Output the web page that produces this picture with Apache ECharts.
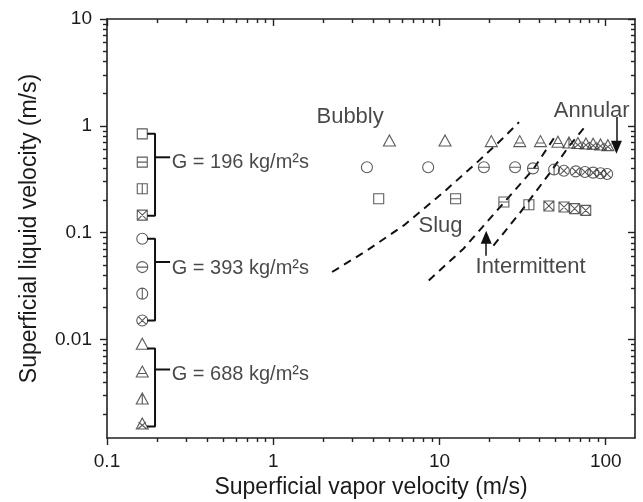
<!DOCTYPE html>
<html><head><meta charset="utf-8">
<script src="https://cdn.jsdelivr.net/npm/echarts@6/dist/echarts.min.js"></script>
<style>html,body{margin:0;padding:0;background:#fff}#c{width:643px;height:502px;background:#fff}</style>
</head><body><div id="c"></div>
<script>
// ---------------- data ----------------
const xTickValues = [0.1, 1, 10, 100];
const xTickLabels = ['0.1', '1', '10', '100'];
const yTickValues = [0.01, 0.1, 1, 10];
const yTickLabels = ['0.01', '0.1', '1', '10'];
const xTitle = 'Superficial vapor velocity (m/s)';
const yTitle = 'Superficial liquid velocity (m/s)';

// regime codes: B = bubbly, S = slug, I = intermittent, A = annular
// G = 196 kg/m2s (squares)
const vg196 = [4.31, 12.5, 24.4, 34.5, 45.5, 56.1, 65.0, 75.8];
const vl196 = [0.208, 0.208, 0.194, 0.183, 0.178, 0.174, 0.168, 0.162];
const rg196 = ['B', 'S', 'S', 'I', 'A', 'A', 'A', 'A'];
// G = 393 kg/m2s (circles)
const vg393 = [3.66, 8.55, 18.5, 28.5, 36.5, 48.9, 56, 66, 75, 84, 93, 102];
const vl393 = [0.41, 0.41, 0.41, 0.41, 0.40, 0.39, 0.38, 0.375, 0.37, 0.365, 0.36, 0.355];
const rg393 = ['B', 'B', 'S', 'S', 'S', 'I', 'A', 'A', 'A', 'A', 'A', 'A'];
// G = 688 kg/m2s (triangles)
const vg688 = [5.0, 10.8, 20.5, 30.4, 40.5, 51.6, 60.1, 68, 76, 84, 93, 103];
const vl688 = [0.73, 0.73, 0.72, 0.72, 0.72, 0.71, 0.70, 0.69, 0.685, 0.68, 0.67, 0.66];
const rg688 = ['B', 'B', 'B', 'S', 'S', 'S', 'I', 'A', 'A', 'A', 'A', 'A'];

// key column (symbol legend at the left)
const keyRegimes = ['B', 'S', 'I', 'A'];
const keyX = 0.163;
const keyY196 = [0.842, 0.458, 0.258, 0.146];
const keyY393 = [0.0879, 0.0477, 0.0269, 0.0151];
const keyY688 = [0.00916, 0.00502, 0.00281, 0.00164];

// flow-pattern transition boundaries
const bubblySlugX = [2.26, 3.67, 6.10, 10.6, 16.9, 23.3, 30.1];
const bubblySlugY = [0.0429, 0.0684, 0.117, 0.240, 0.458, 0.729, 1.083];
const slugIntX = [8.62, 13.95, 36.8, 50.7];
const slugIntY = [0.0358, 0.0709, 0.396, 0.84];
const intAnnX = [21.1, 30.8, 46.7, 59.8, 75];
const intAnnY = [0.0756, 0.157, 0.372, 0.637, 0.98];

// annotations
const annText = ['Bubbly', 'Slug', 'Intermittent', 'Annular'];
const annX = [2.90, 10.15, 35.3, 82.4];
const annY = [1.21, 0.116, 0.048, 1.38];
const gText = ['G = 196 kg/m\u00b2s', 'G = 393 kg/m\u00b2s', 'G = 688 kg/m\u00b2s'];
const gTextX = 0.245;
const gTextY = [0.451, 0.0461, 0.00471];
const bracketTop = [0.842, 0.0879, 0.00824];
const bracketBot = [0.144, 0.01506, 0.00154];
const bracketMid = [0.508, 0.0532, 0.00525];
const bracketX = [0.174, 0.1945, 0.2396];
const arrowAnnular = [[116, 1.21], [116, 0.63]];
const arrowInterm = [[19.1, 0.061], [19.1, 0.0908]];

// ---------------- chart ----------------
const INK = '#1a1a1a';
const FONT = "'Liberation Sans', Arial, sans-serif";
const SHAPES = {
  square: 'M2,2L18,2L18,18L2,18Z',
  circle: 'M2,10A8,8,0,1,1,18,10A8,8,0,1,1,2,10Z',
  triangle: 'M10,2L18,17L2,17Z'
};
const INNER = {
  square: { B: '', S: 'M2,10L18,10', I: 'M10,2L10,18', A: 'M2,2L18,18M18,2L2,18' },
  circle: { B: '', S: 'M2,10L18,10', I: 'M10,2L10,18', A: 'M4.34,4.34L15.66,15.66M15.66,4.34L4.34,15.66' },
  triangle: { B: '', S: 'M4.7,12L15.3,12', I: 'M10,2L10,17', A: 'M5,7.5L16,17M15,7.5L4,17' }
};
const SIZES = { square: [10, 10], circle: [11, 11], triangle: [12, 11] };
const sym = (shape, r) => 'path://' + SHAPES[shape] + INNER[shape][r];

function markerSeries(xs, ys, regs, shape) {
  return {
    type: 'scatter', xAxisIndex: 0, yAxisIndex: 0, silent: true, z: 3,
    symbolSize: SIZES[shape],
    itemStyle: { color: 'rgba(0,0,0,0)', borderColor: '#333', borderWidth: 1.1 },
    data: xs.map((x, i) => ({ value: [x, ys[i]], symbol: sym(shape, regs[i]) }))
  };
}
function keySeries(ys, shape) {
  return markerSeries(ys.map(() => keyX), ys, keyRegimes, shape);
}
function dashed(xs, ys) {
  return {
    type: 'line', xAxisIndex: 0, yAxisIndex: 0, silent: true, showSymbol: false, symbol: 'none',
    lineStyle: { color: '#111', width: 2, type: [8, 6] },
    data: xs.map((x, i) => [x, ys[i]])
  };
}
function bracket(i) {
  const [xa, xb, xc] = bracketX;
  return [
    { type: 'line', xAxisIndex: 0, yAxisIndex: 0, silent: true, showSymbol: false, symbol: 'none',
      lineStyle: { color: '#111', width: 2 },
      data: [[xa, bracketTop[i]], [xb, bracketTop[i]], [xb, bracketBot[i]], [xa, bracketBot[i]]] },
    { type: 'line', xAxisIndex: 0, yAxisIndex: 0, silent: true, showSymbol: false, symbol: 'none',
      lineStyle: { color: '#111', width: 2 },
      data: [[xb, bracketMid[i]], [xc, bracketMid[i]]] }
  ];
}

function minorOf(majors, max) {
  const out = [];
  majors.forEach(d => { for (let k = 2; k <= 9; k++) { const v = +(d * k).toPrecision(3); if (v <= max) out.push(v); } });
  return out;
}
const X_MIN = 0.1, X_MAX = 150, Y_MIN = 0.0012, Y_MAX = 10;
const L = Math.log10;
const xMinor = minorOf([0.1, 1, 10, 100], X_MAX);
const yMinor = minorOf([0.001, 0.01, 0.1, 1], Y_MAX).filter(v => v >= Y_MIN);
const lineSt = { color: '#222', width: 1.6 };

// main (log) axes carry the data, the labels and the axis line
const mainX = {
  type: 'log', min: X_MIN, max: X_MAX,
  axisLine: { show: true, onZero: false, lineStyle: lineSt }, axisTick: { show: false },
  splitLine: { show: false },
  axisLabel: { customValues: xTickValues, fontSize: 19, margin: 14, color: INK, fontFamily: FONT }
};
const mainY = {
  type: 'log', min: Y_MIN, max: Y_MAX,
  axisLine: { show: true, onZero: false, lineStyle: lineSt }, axisTick: { show: false },
  splitLine: { show: false },
  axisLabel: { customValues: yTickValues, fontSize: 19, margin: 15, color: INK, fontFamily: FONT }
};
// tick-only companion axes, expressed in decades (log10 of the same range)
function tickAxis(lo, hi, pos, vals, len, inside, showLine) {
  return {
    type: 'value', min: L(lo), max: L(hi), position: pos,
    axisLine: { show: !!showLine, onZero: false, lineStyle: lineSt },
    axisTick: { show: true, customValues: vals.map(L), length: len, inside: inside,
                lineStyle: { color: '#222', width: 1.4 } },
    axisLabel: { show: false }, splitLine: { show: false }, minorTick: { show: false }
  };
}
const xAxes = [
  mainX,
  tickAxis(X_MIN, X_MAX, 'bottom', xTickValues, 7, false),
  tickAxis(X_MIN, X_MAX, 'bottom', xMinor, 4, false),
  tickAxis(X_MIN, X_MAX, 'top', xTickValues, 7, true, true),
  tickAxis(X_MIN, X_MAX, 'top', xMinor, 4, true)
];
const yAxes = [
  mainY,
  tickAxis(Y_MIN, Y_MAX, 'left', yTickValues, 7, false),
  tickAxis(Y_MIN, Y_MAX, 'left', yMinor, 4, false),
  tickAxis(Y_MIN, Y_MAX, 'right', yTickValues, 7, true, true),
  tickAxis(Y_MIN, Y_MAX, 'right', yMinor, 4, true)
];

const series = [
  dashed(bubblySlugX, bubblySlugY),
  dashed(slugIntX, slugIntY),
  dashed(intAnnX, intAnnY),
  ...bracket(0), ...bracket(1), ...bracket(2),
  markerSeries(vg196, vl196, rg196, 'square'),
  markerSeries(vg393, vl393, rg393, 'circle'),
  markerSeries(vg688, vl688, rg688, 'triangle'),
  keySeries(keyY196, 'square'),
  keySeries(keyY393, 'circle'),
  keySeries(keyY688, 'triangle'),
  {
    type: 'scatter', xAxisIndex: 0, yAxisIndex: 0, silent: true, symbolSize: 0, z: 5,
    label: { show: true, position: 'inside', formatter: '{b}', fontSize: 22, color: INK, fontFamily: FONT },
    data: annText.map((t, i) => ({ name: t, value: [annX[i], annY[i]] })),
    markLine: {
      silent: true, animation: false, symbol: ['none', 'triangle'], symbolSize: [11, 13],
      lineStyle: { color: '#111', width: 1.5, type: 'solid' },
      itemStyle: { color: '#111' },
      label: { show: false }, emphasis: { disabled: true },
      data: [
        [{ coord: arrowAnnular[0] }, { coord: arrowAnnular[1] }],
        [{ coord: arrowInterm[0] }, { coord: arrowInterm[1] }]
      ]
    }
  },
  {
    type: 'scatter', xAxisIndex: 0, yAxisIndex: 0, silent: true, symbolSize: 0, z: 5,
    label: { show: true, position: 'right', distance: 0, formatter: '{b}', fontSize: 20, color: INK, fontFamily: FONT },
    data: gText.map((t, i) => ({ name: t, value: [gTextX, gTextY[i]] }))
  }
];

const GRID = { left: 107, right: 8, top: 19, bottom: 64 };
const W = 643, H = 502;
const chart = echarts.init(document.getElementById('c'));
chart.setOption({
  animation: false,
  grid: Object.assign({ containLabel: false, outerBoundsMode: 'none' }, GRID),
  xAxis: xAxes,
  yAxis: yAxes,
  // axis titles
  graphic: [
    { type: 'text', silent: true,
      x: GRID.left + (W - GRID.left - GRID.right) / 2, y: H - GRID.bottom + 50,
      style: { text: xTitle, fontSize: 23, fontFamily: FONT, fill: INK, align: 'center', verticalAlign: 'middle' } },
    { type: 'text', silent: true, rotation: Math.PI / 2,
      x: 30, y: GRID.top + (H - GRID.top - GRID.bottom) / 2,
      style: { text: yTitle, fontSize: 23, fontFamily: FONT, fill: INK, align: 'center', verticalAlign: 'middle' } }
  ],
  series: series
});
// second layout pass once the axes are known
['xAxis', 'yAxis'].forEach(t => chart.getModel().eachComponent(t, cm => {
  try { cm.axis && cm.axis.getTicksCoords(); } catch (e) { /* ignore */ }
}));
chart.resize();
</script>
</body></html>
